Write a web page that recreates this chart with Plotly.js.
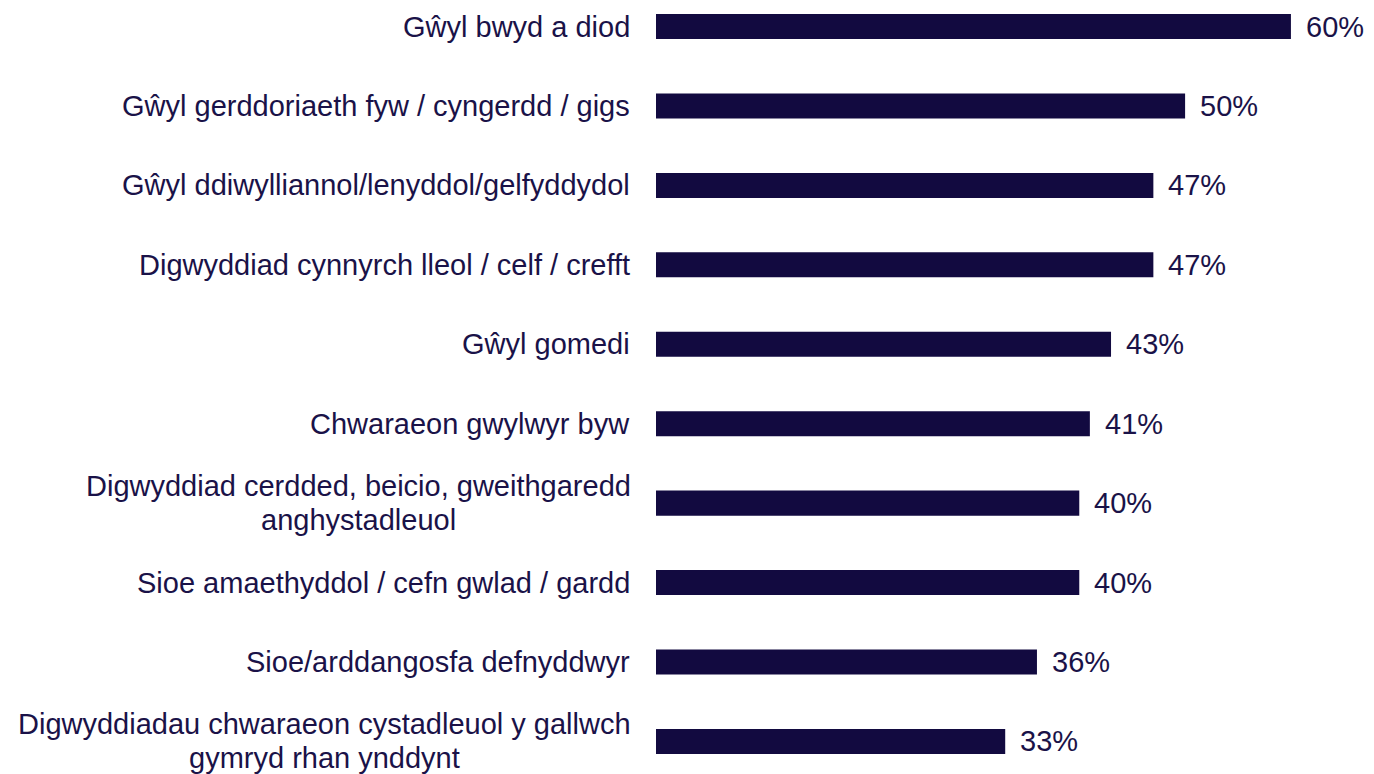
<!DOCTYPE html>
<html>
<head>
<meta charset="utf-8">
<script src="https://cdn.plot.ly/plotly-3.0.1.min.js"></script>
<style>html,body{margin:0;padding:0;background:#fff;}#chart{width:1374px;height:774px;}</style>
</head>
<body>
<div id="chart"></div>
<script>
const categories = [
  "Gŵyl bwyd a diod",
  "Gŵyl gerddoriaeth fyw / cyngerdd / gigs",
  "Gŵyl ddiwylliannol/lenyddol/gelfyddydol",
  "Digwyddiad cynnyrch lleol / celf / crefft",
  "Gŵyl gomedi",
  "Chwaraeon gwylwyr byw",
  "Digwyddiad cerdded, beicio, gweithgaredd<br>anghystadleuol",
  "Sioe amaethyddol / cefn gwlad / gardd",
  "Sioe/arddangosfa defnyddwyr",
  "Digwyddiadau chwaraeon cystadleuol y gallwch<br>gymryd rhan ynddynt"
];
const values = [60, 50, 47, 47, 43, 41, 40, 40, 36, 33];
const valueLabels = values.map(v => v + "%");

const navy = "#120a40";
const textColor = "#1a1248";
const fontFamily = "Liberation Sans, Arial, sans-serif";
const fontSize = 29;

const ctx = document.createElement("canvas").getContext("2d");
ctx.font = fontSize + 'px "Liberation Sans", Arial, sans-serif';

const annotations = [];
categories.forEach((c, i) => {
  const lines = c.split("<br>");
  if (lines.length === 1) {
    annotations.push({
      x: 0, xref: "paper", y: c, yref: "y",
      text: c, showarrow: false, xanchor: "right", yanchor: "middle",
      xshift: -24,
      font: {family: fontFamily, size: fontSize, color: textColor}
    });
  } else {
    const blockW = Math.max(...lines.map(l => ctx.measureText(l).width));
    const shifts = [17, -16.5];
    lines.forEach((l, j) => {
      annotations.push({
        x: 0, xref: "paper", y: c, yref: "y",
        text: l, showarrow: false, xanchor: "center", yanchor: "middle",
        xshift: -25 - blockW / 2, yshift: shifts[j],
        font: {family: fontFamily, size: fontSize, color: textColor}
      });
    });
  }
  annotations.push({
    x: values[i], xref: "x", y: c, yref: "y",
    text: valueLabels[i], showarrow: false, xanchor: "left", yanchor: "middle",
    xshift: 13,
    font: {family: fontFamily, size: fontSize, color: textColor}
  });
});

const trace = {
  type: "bar",
  orientation: "h",
  x: values,
  y: categories,
  marker: {color: navy},
  width: 0.315,
  hoverinfo: "skip"
};

const layout = {
  width: 1374, height: 774,
  margin: {l: 656, r: 9, t: 0, b: 0, pad: 0},
  paper_bgcolor: "#ffffff", plot_bgcolor: "#ffffff",
  showlegend: false,
  xaxis: {range: [0, 67], visible: false, fixedrange: true},
  yaxis: {
    type: "category",
    range: [9.41, -0.334],
    showticklabels: false, showgrid: false, zeroline: false, showline: false, ticks: ""
  },
  annotations: annotations
};

Plotly.newPlot("chart", [trace], layout, {staticPlot: true, displayModeBar: false});
</script>
</body>
</html>
